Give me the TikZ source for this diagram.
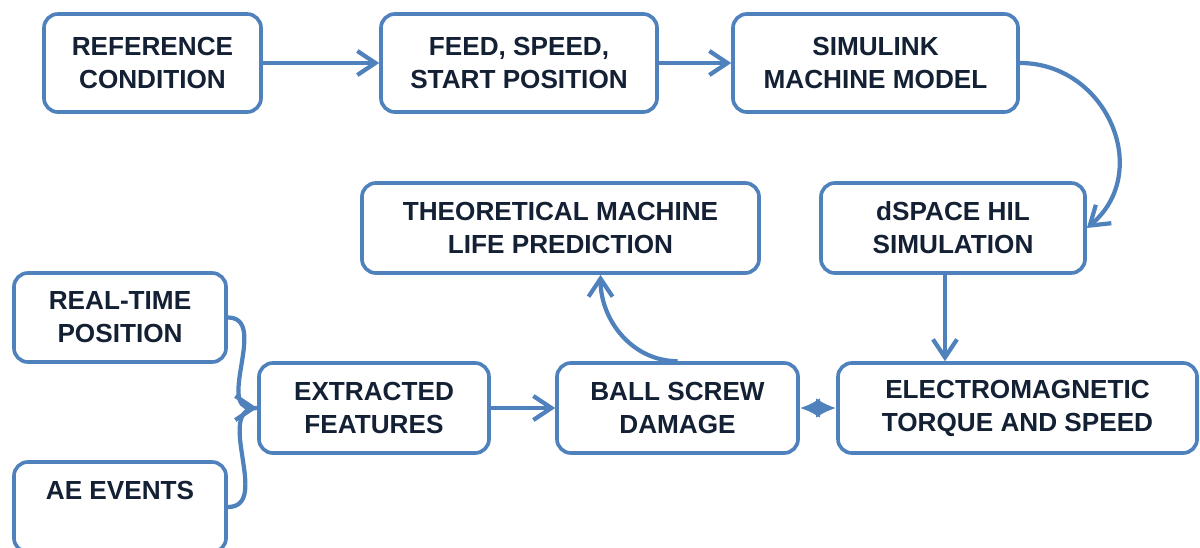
\documentclass[tikz,border=0pt]{standalone}
\usepackage{fontspec}
\setmainfont{Liberation Sans}
\usetikzlibrary{arrows.meta,positioning}
\definecolor{boxblue}{RGB}{79,129,189}
\definecolor{textnavy}{RGB}{20,32,52}

\begin{document}
\begin{tikzpicture}[x=0.025cm, y=0.025cm,
    box/.style={draw=boxblue, line width=2.6pt, rounded corners=0.35cm, fill=white,
      align=center, text=textnavy, inner sep=0pt,
      font=\fontsize{18.6}{23.4}\selectfont\bfseries},
    line/.style={draw=boxblue, line width=3pt},
    arr/.style={line, -{Straight Barb[length=4.5mm,width=6mm]}},
    dbl/.style={line, {Latex[length=5mm,width=5mm]}-{Latex[length=5mm,width=5mm]}}]
    \useasboundingbox (0,0) rectangle (1200,-547);
    \clip (0,0) rectangle (1200,-547);

    % oberste Reihe
    \node[box, minimum width=5.425cm, minimum height=2.45cm] (ref) at (152.5,-63) {REFERENCE\\CONDITION};
    \node[box, minimum width=6.9cm, minimum height=2.45cm] (feed) at (519,-63) {FEED, SPEED,\\START POSITION};
    \node[box, minimum width=7.125cm, minimum height=2.45cm] (sim) at (875.5,-63) {SIMULINK\\MACHINE MODEL};

    % mittlere Reihe
    \node[box, minimum width=9.925cm, minimum height=2.25cm] (theo) at (560.5,-228) {THEORETICAL MACHINE\\LIFE PREDICTION};
    \node[box, minimum width=6.6cm, minimum height=2.25cm] (hil) at (953,-228) {dSPACE HIL\\SIMULATION};

    % untere Reihe
    \node[box, minimum width=5.3cm, minimum height=2.225cm] (pos) at (120,-317.5) {REAL-TIME\\POSITION};
    \node[box, minimum width=5.3cm, minimum height=2.25cm] (ae) at (120,-507) {AE EVENTS\\\phantom{A}};
    \node[box, minimum width=5.75cm, minimum height=2.25cm] (feat) at (374,-408) {EXTRACTED\\FEATURES};
    \node[box, minimum width=6.025cm, minimum height=2.25cm] (damage) at (677.5,-408) {BALL SCREW\\DAMAGE};
    \node[box, minimum width=8.975cm, minimum height=2.25cm] (torque) at (1017.5,-408) {ELECTROMAGNETIC\\TORQUE AND SPEED};

    % Verbindungen
    \draw[arr] (ref) -- (feed);
    \draw[arr] (feed) -- (sim);
    \draw[arr] (sim.east) to[out=0, in=40, looseness=1.25] (hil.east);
    \draw[arr] ([xshift=-0.2cm]hil.south) -- ([xshift=-0.2cm]hil.south |- torque.north);
    \draw[dbl] (damage.east) -- (torque.west);
    \draw[arr] (damage.north) to[out=180, in=-90] ([xshift=1cm]theo.south);
    \draw[arr] (feat) -- (damage);
    \draw[line] (ae.east) to[out=0, in=180, looseness=1.1] (feat.west);
    \draw[arr] (pos.east) to[out=0, in=180, looseness=1.1] (feat.west);
\end{tikzpicture}
\end{document}
